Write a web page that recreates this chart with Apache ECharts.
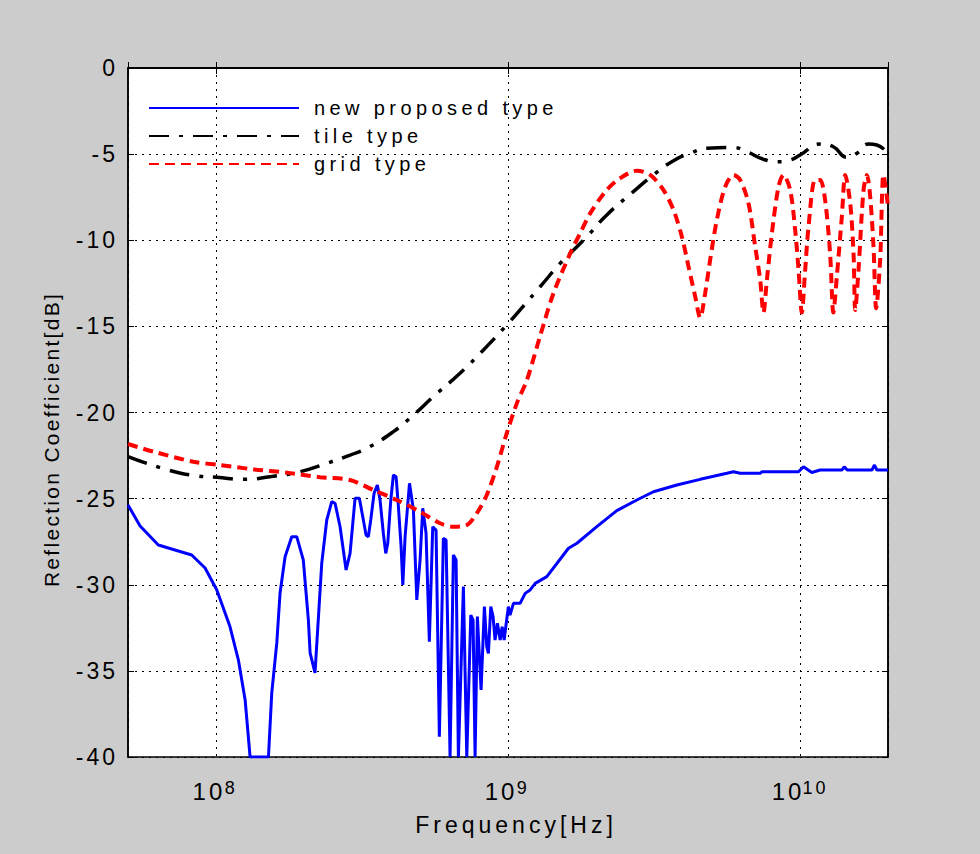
<!DOCTYPE html>
<html><head><meta charset="utf-8">
<script src="https://cdn.jsdelivr.net/npm/echarts@6/dist/echarts.min.js"></script>
<style>
html,body{margin:0;padding:0;background:#cccccc;}
#c{width:980px;height:854px;}
#c text{letter-spacing:3px;}
#c text[style*="LegendX"], #c text[font-family*="LegendX"]{letter-spacing:4.4px;}
#c text[style*="YTitleX"], #c text[font-family*="YTitleX"]{letter-spacing:2.3px;}
#c text[style*="XTitleX"], #c text[font-family*="XTitleX"]{letter-spacing:4px;}
</style></head><body><div id="c"></div>
<script>
// ---- data (frequency in Hz, reflection coefficient in dB) ----
const blueFreq = [5.0e7,5.50e7,6.35e7,8.26e7,9.18e7,1.007e8,1.117e8,1.194e8,1.259e8,1.309e8,
  1.513e8,1.553e8,1.616e8,1.658e8,1.725e8,1.818e8,1.891e8,1.991e8,2.073e8,2.101e8,
  2.184e8,2.303e8,2.396e8,2.492e8,2.558e8,2.661e8,2.790e8,2.879e8,2.995e8,3.098e8,
  3.197e8,3.266e8,3.325e8,3.389e8,3.479e8,3.570e8,3.647e8,3.743e8,3.815e8,3.876e8,
  3.969e8,4.052e8,4.139e8,4.215e8,4.305e8,4.364e8,4.443e8,4.60e8,4.744e8,4.872e8,
  5.00e8,5.107e8,5.241e8,5.379e8,5.525e8,5.671e8,5.821e8,6.008e8,6.137e8,6.334e8,
  6.501e8,6.641e8,6.763e8,7.035e8,7.226e8,7.457e8,7.593e8,7.714e8,7.855e8,8.088e8,
  8.301e8,8.459e8,8.567e8,8.730e8,8.89e8,9.03e8,9.20e8,9.40e8,9.55e8,9.70e8,
  9.86e8,1.003e9,1.016e9,1.044e9,1.100e9,1.145e9,1.191e9,1.239e9,1.358e9,1.611e9,
  1.722e9,2.014e9,2.358e9,2.761e9,3.147e9,3.786e9,4.550e9,5.616e9,5.916e9,6.237e9,
  7.302e9,7.400e9,9.88e9,1.027e10,1.097e10,1.171e10,1.390e10,1.416e10,1.45e10,1.762e10,
  1.798e10,1.832e10,2.0e10];
const blueDb = [-25.37,-26.59,-27.69,-28.27,-29.03,-30.30,-32.43,-34.37,-36.69,-40,
  -40,-36.28,-33.38,-30.48,-28.37,-27.21,-27.21,-28.56,-32.05,-33.96,
  -35.12,-28.76,-26.24,-25.18,-25.27,-26.63,-29.14,-28.18,-24.98,-24.98,
  -26.24,-27.11,-27.21,-26.24,-24.69,-24.21,-25.08,-27.01,-28.18,-27.59,
  -25.08,-23.63,-23.73,-25.47,-27.79,-30.01,-27.21,-24.11,-25.66,-30.88,
  -28.56,-25.56,-27.01,-33.30,-26.63,-26.82,-38.82,-27.30,-27.40,-40,
  -28.27,-28.56,-40,-30.11,-40,-31.76,-32.05,-40,-31.85,-36.11,
  -31.27,-33.59,-33.98,-31.27,-31.85,-33.21,-32.24,-33.21,-32.43,-33.21,
  -32.24,-31.27,-31.76,-31.08,-31.08,-30.50,-30.30,-29.92,-29.53,-27.88,
  -27.59,-26.63,-25.70,-25.08,-24.60,-24.21,-23.88,-23.53,-23.44,-23.53,
  -23.53,-23.44,-23.44,-23.15,-23.48,-23.34,-23.34,-23.15,-23.34,-23.34,
  -23.05,-23.34,-23.34];

const tileFreq = [5.0e7,6.87e7,8.70e7,1.007e8,1.241e8,1.531e8,1.941e8,2.396e8,2.879e8,3.285e8,
  4.052e8,4.744e8,5.55e8,6.85e8,8.13e8,9.90e8,1.129e9,1.288e9,1.509e9,1.633e9,
  1.862e9,2.179e9,2.687e9,3.147e9,3.686e9,4.207e9,4.796e9,5.916e9,6.575e9,7.494e9,
  8.330e9,9.25e9,1.0e10,1.171e10,1.300e10,1.445e10,1.566e10,1.715e10,1.832e10,2.0e10];
const tileDb = [-22.56,-23.34,-23.69,-23.76,-23.88,-23.73,-23.44,-22.95,-22.47,-22.08,
  -21.11,-20.15,-19.08,-17.72,-16.47,-14.92,-13.82,-12.70,-11.34,-10.76,
  -9.79,-8.53,-7.18,-6.21,-5.38,-4.95,-4.66,-4.62,-4.86,-5.30,
  -5.44,-5.34,-5.05,-4.41,-4.57,-5.18,-4.95,-4.41,-4.47,-4.95];

const gridFreq = [5.0e7,6.10e7,8.37e7,1.033e8,1.343e8,1.748e8,2.273e8,2.879e8,3.459e8,4.16e8,
  5.00e8,5.85e8,6.50e8,7.23e8,7.82e8,8.46e8,9.16e8,9.90e8,1.072e9,1.161e9,
  1.288e9,1.431e9,1.633e9,1.766e9,1.911e9,2.179e9,2.421e9,2.761e9,3.067e9,3.404e9,
  3.686e9,3.938e9,4.150e9,4.375e9,4.550e9,4.731e9,4.921e9,5.188e9,5.541e9,5.916e9,
  6.237e9,6.658e9,7.019e9,7.302e9,7.494e9,7.697e9,8.008e9,8.436e9,8.775e9,9.25e9,
  9.62e9,9.88e9,1.014e10,1.041e10,1.069e10,1.126e10,1.171e10,1.218e10,1.267e10,1.300e10,
  1.336e10,1.390e10,1.428e10,1.485e10,1.524e10,1.545e10,1.585e10,1.649e10,1.694e10,1.738e10,
  1.784e10,1.822e10,1.880e10,1.93e10,2.0e10];
const gridDb = [-21.83,-22.27,-22.86,-23.05,-23.30,-23.49,-23.76,-23.92,-24.50,-25.08,
  -25.76,-26.43,-26.63,-26.53,-25.85,-24.79,-23.15,-21.21,-19.47,-18.11,
  -15.56,-13.08,-10.76,-9.60,-8.44,-7.08,-6.40,-5.96,-6.21,-7.08,
  -8.24,-9.79,-11.53,-13.27,-14.5,-13.08,-11.15,-8.82,-6.89,-6.21,
  -6.50,-7.85,-10.37,-12.31,-14.2,-12.31,-9.60,-6.89,-6.21,-7.08,
  -9.40,-11.73,-14.2,-11.73,-9.21,-6.50,-6.50,-7.66,-10.76,-14.2,
  -12.12,-8.63,-6.21,-7.85,-10.76,-14.05,-11.73,-7.08,-6.21,-7.47,
  -10.37,-13.95,-11.15,-6.2,-8.0];

const seriesNames = ['new proposed type', 'tile type', 'grid type'];
const xMin = 5e7, xMax = 2e10;
const yMin = -40, yMax = 0, yStep = 5;

const FONT = '"Liberation Sans", Arial, sans-serif';
const FONT_LEGEND = '"Liberation Sans", LegendX, sans-serif';
const FONT_YT = '"Liberation Sans", YTitleX, sans-serif';
const FONT_XT = '"Liberation Sans", XTitleX, sans-serif';
const pairs = (xs, ys) => xs.map((x, i) => [x, ys[i]]);

const chart = echarts.init(document.getElementById('c'), null, {renderer: 'svg'});
const xLabelFmt = v => {
  const e = Math.log10(v), r = Math.round(e);
  if (Math.abs(e - r) > 1e-6) return '';
  return '{b|10}{s|' + r + '}';
};
const axisLineStyle = {color: '#000', width: 1.5};
const tickStyle = {color: '#000', width: 1};
chart.setOption({
  animation: false,
  backgroundColor: '#cccccc',
  textStyle: {fontFamily: FONT, color: '#000'},
  grid: {left: 128, right: 92, top: 68, bottom: 97, show: true, backgroundColor: '#ffffff',
         borderColor: '#000', borderWidth: 1.5, containLabel: false},
  legend: {
    orient: 'vertical', left: 148, top: 98, padding: 0,
    itemWidth: 150, itemHeight: 14, itemGap: 8,
    itemStyle: {opacity: 0},
    textStyle: {fontSize: 20, color: '#000', fontFamily: FONT_LEGEND, padding: [0, 0, 0, 10]},
    data: seriesNames
  },
  xAxis: [{
    type: 'log', logBase: 10, min: xMin, max: xMax,
    name: 'Frequency[Hz]', nameLocation: 'middle', nameGap: 56,
    nameTextStyle: {fontSize: 23, color: '#000', fontFamily: FONT_XT, padding: [0, 0, 0, 16]},
    axisLine: {show: true, lineStyle: axisLineStyle},
    axisTick: {show: true, inside: true, length: 6, lineStyle: tickStyle},
    minorTick: {show: false},
    axisLabel: {
      margin: 22, color: '#000', formatter: xLabelFmt,
      rich: {
        b: {fontSize: 24, color: '#000', fontFamily: FONT, verticalAlign: 'bottom'},
        s: {fontSize: 18, color: '#000', fontFamily: FONT, verticalAlign: 'top', padding: [0, 0, 0, 4]}
      }
    },
    splitLine: {show: true, lineStyle: {color: '#000', width: 1, type: [2, 5]}}
  }, {
    type: 'log', logBase: 10, min: xMin, max: xMax, position: 'top',
    axisLine: {show: true, lineStyle: axisLineStyle},
    axisTick: {show: true, inside: true, length: 6, lineStyle: tickStyle},
    axisLabel: {show: false}, splitLine: {show: false}
  }],
  yAxis: [{
    type: 'value', min: yMin, max: yMax, interval: yStep,
    name: 'Reflection Coefficient[dB]', nameLocation: 'middle', nameGap: 66, nameRotate: 90,
    nameTextStyle: {fontSize: 21, color: '#000', fontFamily: FONT_YT, padding: [0, 54, 0, 0]},
    axisLine: {show: true, lineStyle: axisLineStyle},
    axisTick: {show: true, inside: true, length: 6, lineStyle: tickStyle},
    axisLabel: {margin: 10, fontSize: 23, color: '#000', fontFamily: FONT},
    splitLine: {show: true, lineStyle: {color: '#000', width: 1, type: [2, 5]}}
  }, {
    type: 'value', min: yMin, max: yMax, interval: yStep, position: 'right',
    axisLine: {show: true, lineStyle: axisLineStyle},
    axisTick: {show: true, inside: true, length: 6, lineStyle: tickStyle},
    axisLabel: {show: false}, splitLine: {show: false}
  }],
  series: [{
    name: seriesNames[0], type: 'line', xAxisIndex: 0, yAxisIndex: 0,
    data: pairs(blueFreq, blueDb), symbol: 'none', smooth: false,
    lineStyle: {color: '#0000ff', width: 3}, itemStyle: {color: '#0000ff'}, z: 3
  }, {
    name: seriesNames[1], type: 'line', xAxisIndex: 0, yAxisIndex: 0,
    data: pairs(tileFreq, tileDb), symbol: 'none', smooth: true,
    lineStyle: {color: '#000000', width: 3.5, type: [20, 10, 4, 10]}, itemStyle: {color: '#000'}, z: 4
  }, {
    name: seriesNames[2], type: 'line', xAxisIndex: 0, yAxisIndex: 0,
    data: pairs(gridFreq, gridDb), symbol: 'none', smooth: 0.3,
    lineStyle: {color: '#ff0000', width: 4, type: [10, 6]}, itemStyle: {color: '#ff0000'}, z: 5
  }]
});
</script></body></html>
